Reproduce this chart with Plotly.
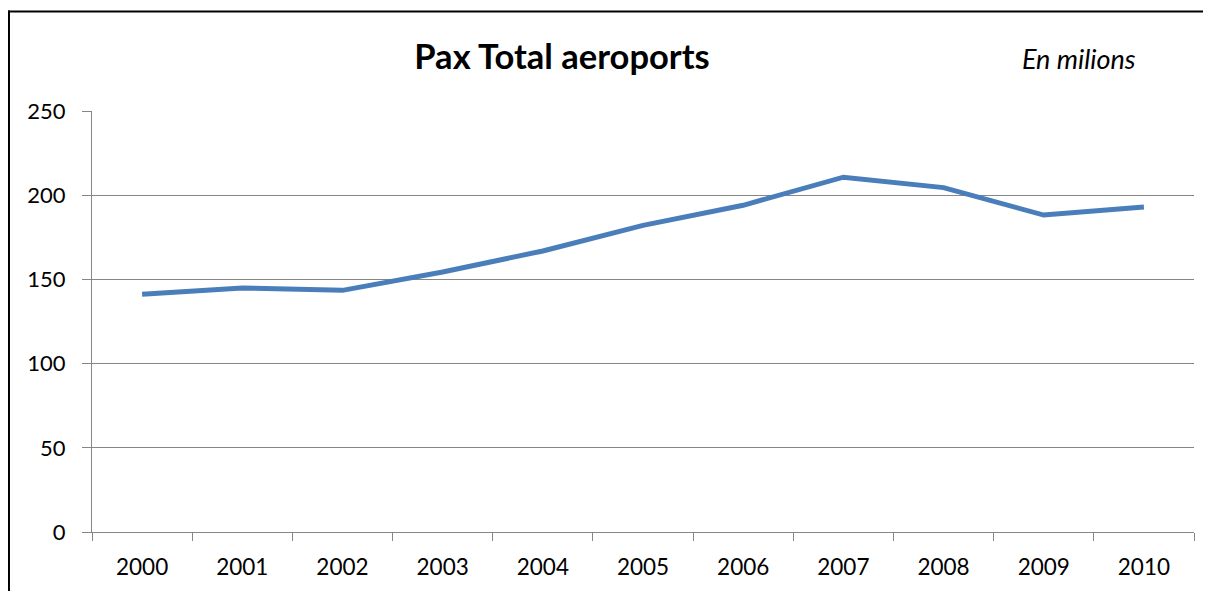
import plotly.graph_objects as go

years = ["2000", "2001", "2002", "2003", "2004", "2005", "2006", "2007", "2008", "2009", "2010"]
pax = [141.2, 144.9, 143.5, 154.4, 166.9, 182.1, 194.0, 210.7, 204.5, 188.2, 193.0]
y_ticks = [0, 50, 100, 150, 200, 250]

title_text = "Pax Total aeroports"
unit_text = "En milions"

# page body has an 8px margin; work in page pixels and convert
OFF = 8
W, H = 1203, 583
L = 92 - OFF
T = 110.5 - OFF
R = W - (1193.7 - OFF)
B = H - (531.7 - OFF)
pw = W - L - R
ph = H - T - B

def px_to_paper_x(px):
    return (px - OFF - L) / pw

def px_to_paper_y(py):
    return (H - B - (py - OFF)) / ph

FONT = "Lato"
GRID = "#868686"

fig = go.Figure()
fig.add_trace(go.Scatter(
    x=years, y=pax, mode="lines",
    line=dict(color="#4A7EBB", width=5),
    showlegend=False, hoverinfo="x+y",
))

border = dict(color="black", width=2)

fig.update_layout(
    width=W, height=H,
    margin=dict(l=L, r=R, t=T, b=B, pad=0, autoexpand=False),
    paper_bgcolor="white", plot_bgcolor="white",
    font=dict(family=FONT, color="black"),
    title=dict(
        text="<b>" + title_text + "</b>",
        font=dict(family=FONT, size=34.5, color="black"),
        xref="container", yref="container",
        x=(562 - OFF) / W, xanchor="center",
        y=1 - (57 - OFF) / H, yanchor="middle",
        automargin=False,
    ),
    xaxis=dict(
        type="category", range=[-0.5, 10.5],
        tickson="boundaries", ticks="outside", ticklen=8, tickwidth=1, tickcolor=GRID,
        showline=True, linecolor=GRID, linewidth=1,
        showgrid=False, zeroline=False,
        tickfont=dict(family=FONT, size=22.5, color="black"),
        ticklabelstandoff=15,
        automargin=False,
        fixedrange=True,
    ),
    yaxis=dict(
        range=[0, 250], tickvals=y_ticks,
        ticks="outside", ticklen=9, tickwidth=1, tickcolor=GRID,
        showline=True, linecolor=GRID, linewidth=1,
        showgrid=True, gridcolor=GRID, gridwidth=1,
        zeroline=False,
        tickfont=dict(family=FONT, size=22, color="black"),
        ticklabelstandoff=12,
        automargin=False,
        fixedrange=True,
    ),
    annotations=[dict(
        text="<i>" + unit_text + "</i>",
        xref="paper", yref="paper",
        x=px_to_paper_x(1138), xanchor="right",
        y=px_to_paper_y(58), yanchor="middle",
        showarrow=False,
        font=dict(family=FONT, size=27, color="black"),
    )],
    shapes=[
        dict(type="line", xref="paper", yref="paper",
             x0=px_to_paper_x(9), x1=px_to_paper_x(9),
             y0=px_to_paper_y(600), y1=px_to_paper_y(10),
             line=border, layer="above"),
        dict(type="line", xref="paper", yref="paper",
             x0=px_to_paper_x(8), x1=px_to_paper_x(1220),
             y0=px_to_paper_y(11), y1=px_to_paper_y(11),
             line=border, layer="above"),
    ],
)

fig.write_html("out.html", config={"displayModeBar": False})
